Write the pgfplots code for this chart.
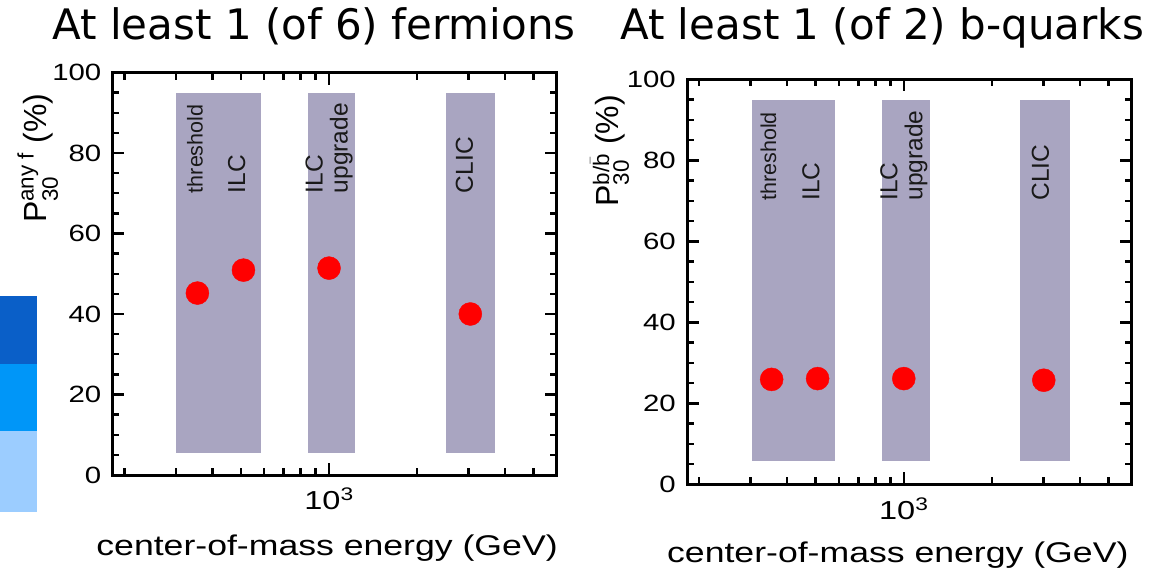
\documentclass[border=0pt]{standalone}
\usepackage{fontspec}
\usepackage{amsmath}
\usepackage{pgfplots}
\pgfplotsset{compat=1.18}
\setmainfont{Liberation Sans}
\newfontfamily\pf[FakeStretch=1.25]{Liberation Sans}
\newfontfamily\tf{DejaVu Sans}
\definecolor{bandc}{HTML}{A9A5C1}
\definecolor{blueA}{HTML}{0A5FC8}
\definecolor{blueB}{HTML}{0096F8}
\definecolor{blueC}{HTML}{9CCDFF}
\pgfplotsset{
  /pgf/number format/assume math mode=true,
  every axis/.append style={
  scale only axis, ymin=0, ymax=100,
  separate axis lines,
  axis line style={line width=3pt, line cap=rect, black},
  tick style={line width=2.4pt, black},
  tick align=inside, major tick length=12pt, minor tick length=7pt,
  ytick={0,20,...,100}, minor y tick num=3,
  xtick={1000}, xticklabels={{10\textsuperscript{3}}},
  minor xtick={200,300,400,500,600,700,800,900,2000,3000,4000,5000},
  tick label style={font=\pf\fontsize{23.5}{23}\selectfont, inner sep=0pt},
  yticklabel style={xshift=-11pt},
  xticklabel style={yshift=-13pt, font=\pf\fontsize{26}{26}\selectfont},
  xlabel style={font=\pf\fontsize{28.5}{28}\selectfont, inner sep=0pt, anchor=base},
  ylabel style={inner sep=0pt, anchor=base west, rotate=0, font=\fontsize{32}{32}\selectfont},
  clip=false,
}}
\begin{document}
\begin{tikzpicture}
\useasboundingbox (0,0) rectangle (1155pt,-575pt);
\fill[blueA] (0,-296pt) rectangle (37pt,-364pt);
\fill[blueB] (0,-364pt) rectangle (37pt,-431pt);
\fill[blueC] (0,-431pt) rectangle (37pt,-512pt);
\node[font=\tf\fontsize{42}{42}\selectfont, anchor=base, inner sep=0pt] at (314pt,-40pt) {At least 1 (of 6) fermions};
\node[font=\tf\fontsize{42}{42}\selectfont, anchor=base, inner sep=0pt] at (882pt,-40pt) {At least 1 (of 2) b-quarks};
% left panel
\begin{semilogxaxis}[at={(112.5pt,-475pt)}, anchor=south west, width=444.2pt, height=402.5pt,
  xmin=182, xmax=6000,
  xlabel={center-of-mass energy (GeV)},
  xlabel style={at={(axis description cs:0.483,0)}, yshift=-80pt},
  ylabel={P$^{\text{any f}}_{\text{30}}$ (\%)},
  ylabel style={at={(axis description cs:-0.148,0.626)}},
]
\addplot[fill=bandc, draw=none] coordinates {(300,5.5) (585,5.5) (585,95) (300,95)} -- cycle;
\addplot[fill=bandc, draw=none] coordinates {(845,5.5) (1225,5.5) (1225,95) (845,95)} -- cycle;
\addplot[fill=bandc, draw=none] coordinates {(2510,5.5) (3700,5.5) (3700,95) (2510,95)} -- cycle;
\node[rotate=90, anchor=west, inner sep=0pt, text=black!90, font=\fontsize{21.5}{22}\selectfont] at (axis cs:348,70) {threshold};
\node[rotate=90, anchor=west, inner sep=0pt, text=black!90, font=\fontsize{24.5}{25}\selectfont] at (axis cs:484,70) {ILC};
\node[rotate=90, anchor=west, inner sep=0pt, text=black!90, font=\fontsize{24.5}{25}\selectfont, align=left] at (axis cs:1000,70) {ILC\\upgrade};
\node[rotate=90, anchor=west, inner sep=0pt, text=black!90, font=\fontsize{24.5}{25}\selectfont] at (axis cs:2900,70) {CLIC};
\addplot[only marks, mark=*, mark size=11.5pt, color=red, mark options={fill=red, draw=red}] coordinates {(355,45.2) (510,50.9) (1000,51.4) (3040,40.0)};
\end{semilogxaxis}
% right panel
\begin{semilogxaxis}[at={(687pt,-484.3pt)}, anchor=south west, width=444.7pt, height=405pt,
  xmin=182, xmax=6000,
  xlabel={center-of-mass energy (GeV)},
  xlabel style={at={(axis description cs:0.474,0)}, yshift=-78pt},
  ylabel={P$^{\text{b/}\bar{\text{b}}}_{\text{30}}$ (\%)},
  ylabel style={at={(axis description cs:-0.155,0.685)}},
]
\addplot[fill=bandc, draw=none] coordinates {(303,5.8) (584,5.8) (584,95) (303,95)} -- cycle;
\addplot[fill=bandc, draw=none] coordinates {(843,5.8) (1225,5.8) (1225,95) (843,95)} -- cycle;
\addplot[fill=bandc, draw=none] coordinates {(2500,5.8) (3680,5.8) (3680,95) (2500,95)} -- cycle;
\node[rotate=90, anchor=west, inner sep=0pt, text=black!90, font=\fontsize{21.5}{22}\selectfont] at (axis cs:345,70) {threshold};
\node[rotate=90, anchor=west, inner sep=0pt, text=black!90, font=\fontsize{24.5}{25}\selectfont] at (axis cs:482,70) {ILC};
\node[rotate=90, anchor=west, inner sep=0pt, text=black!90, font=\fontsize{24.5}{25}\selectfont, align=left] at (axis cs:1000,70) {ILC\\upgrade};
\node[rotate=90, anchor=west, inner sep=0pt, text=black!90, font=\fontsize{24.5}{25}\selectfont] at (axis cs:2925,70) {CLIC};
\addplot[only marks, mark=*, mark size=11.5pt, color=red, mark options={fill=red, draw=red}] coordinates {(354,25.9) (508,26.1) (1000,26.1) (3006,25.7)};
\end{semilogxaxis}
\end{tikzpicture}
\end{document}
